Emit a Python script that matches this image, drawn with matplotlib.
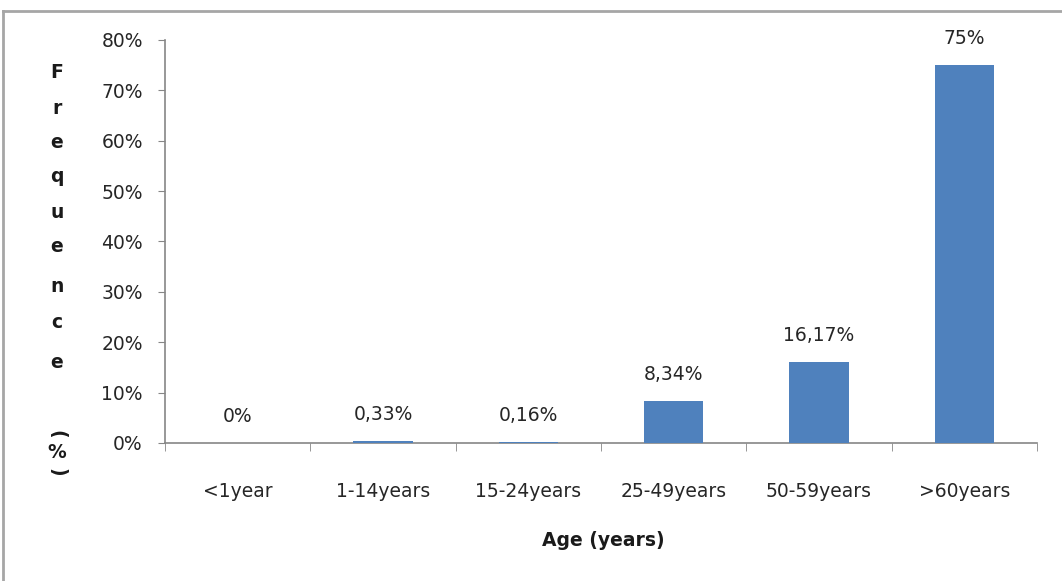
import matplotlib
matplotlib.use("Agg")
import matplotlib.pyplot as plt
from matplotlib.lines import Line2D

categories = ["<1year", "1-14years", "15-24years", "25-49years", "50-59years", ">60years"]
values = [0.0, 0.33, 0.16, 8.34, 16.17, 75.0]
value_labels = ["0%", "0,33%", "0,16%", "8,34%", "16,17%", "75%"]
yticks = [0, 10, 20, 30, 40, 50, 60, 70, 80]
ytick_labels = ["0%", "10%", "20%", "30%", "40%", "50%", "60%", "70%", "80%"]
ylabel_chars = ["F", "r", "e", "q", "u", "e", "n", "c", "e"]

plt.rcParams["font.family"] = ["DejaVu Sans"]
FS = 13.5
W, H = 1062, 581
fig = plt.figure(figsize=(W / 100, H / 100), dpi=100)
ax = fig.add_axes([165 / W, 1 - 443 / H, (1037 - 165) / W, (443 - 40) / H])

x = list(range(len(categories)))
ax.bar(x, values, width=0.41, color="#4F81BD", zorder=3)
for xi, v, lab in zip(x, values, value_labels):
    ax.annotate(lab, (xi, v), xytext=(0, 19), textcoords="offset points",
                ha="center", va="center", fontsize=FS, color="#262626")

ax.set_xlim(-0.5, len(categories) - 0.5)
ax.set_ylim(0, 80)
ax.set_yticks(yticks)
ax.set_yticklabels(ytick_labels, fontsize=FS, color="#262626")
ax.set_xticks(x)
ax.set_xticklabels(categories, fontsize=FS, color="#262626")
ax.set_xticks([i - 0.5 for i in range(len(categories) + 1)], minor=True)
ax.tick_params(axis="x", which="major", length=0, pad=28)
ax.tick_params(axis="x", which="minor", length=6, color="#868686", direction="out")
ax.tick_params(axis="y", length=5, color="#868686", direction="out", pad=11)
for s in ["top", "right"]:
    ax.spines[s].set_visible(False)
for s in ["left", "bottom"]:
    ax.spines[s].set_color("#868686")
    ax.spines[s].set_linewidth(1.2)

fig.text(603 / W, 1 - 540 / H, "Age (years)", ha="center", va="center",
         fontsize=FS, fontweight="bold", color="#1a1a1a")

# stacked vertical y label
ys = [73, 108, 142, 177, 212, 247, 287, 323, 362]
for ch, yy in zip(ylabel_chars, ys):
    fig.text(57 / W, 1 - yy / H, ch, ha="center", va="center", fontsize=FS,
             fontweight="bold", color="#1a1a1a")
fig.text(57 / W, 1 - 434 / H, "(", ha="center", va="center", fontsize=FS,
         fontweight="bold", rotation=-90, color="#1a1a1a")
fig.text(57 / W, 1 - 453 / H, "%", ha="center", va="center", fontsize=FS,
         fontweight="bold", color="#1a1a1a")
fig.text(57 / W, 1 - 472 / H, ")", ha="center", va="center", fontsize=FS,
         fontweight="bold", rotation=-90, color="#1a1a1a")

# outer chart border
fig.add_artist(Line2D([3 / W, 3 / W], [0, 1 - 11 / H], transform=fig.transFigure,
                      color="#a6a6a6", lw=2))
fig.add_artist(Line2D([3 / W, 1], [1 - 11 / H, 1 - 11 / H], transform=fig.transFigure,
                      color="#a6a6a6", lw=2))

fig.savefig("out.png", dpi=100)
